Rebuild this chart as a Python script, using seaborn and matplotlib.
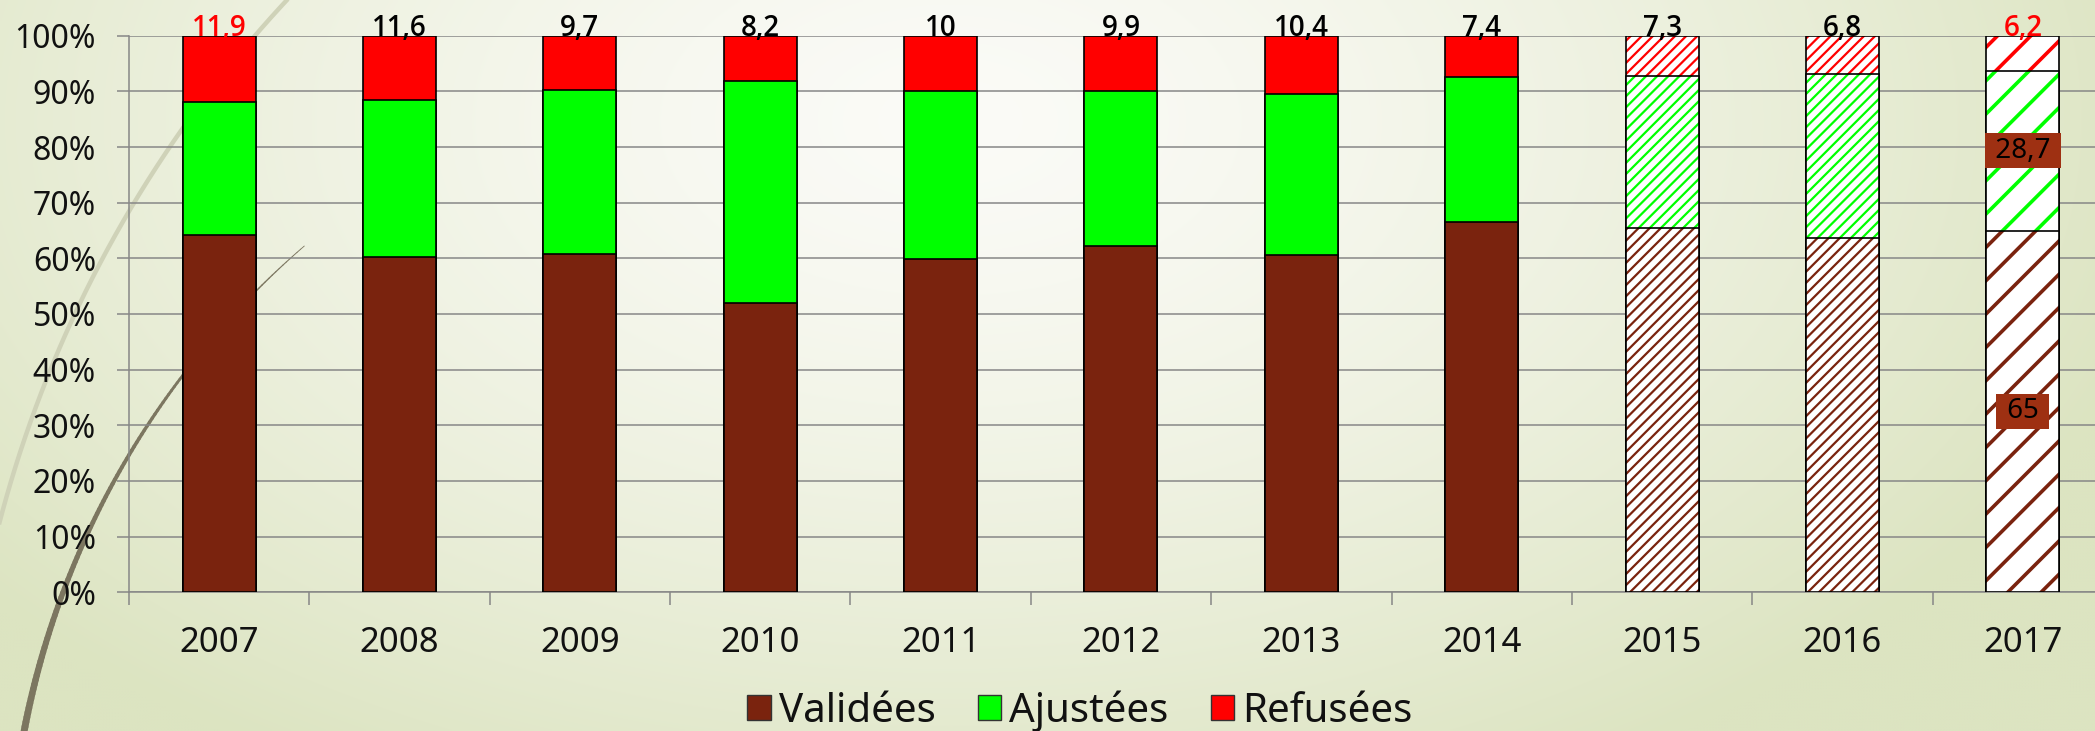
import numpy as np
import pandas as pd
import matplotlib
matplotlib.use("Agg")
import matplotlib.pyplot as plt
import seaborn as sns
from matplotlib.patches import Rectangle
from matplotlib.collections import LineCollection

# ---------------- data ----------------
years = ["2007", "2008", "2009", "2010", "2011", "2012", "2013", "2014", "2015", "2016", "2017"]
validees = [64.2, 60.2, 60.8, 52.0, 59.8, 62.2, 60.6, 66.6, 65.4, 63.6, 65.0]
ajustees = [23.9, 28.2, 29.5, 39.8, 30.2, 27.9, 29.0, 26.0, 27.3, 29.6, 28.7]
refusees = [11.9, 11.6, 9.7, 8.2, 10.0, 9.9, 10.4, 7.4, 7.3, 6.8, 6.2]
refusees_labels = ["11,9", "11,6", "9,7", "8,2", "10", "9,9", "10,4", "7,4", "7,3", "6,8", "6,2"]
series_names = ["Validées", "Ajustées", "Refusées"]
ytick_values = [0, 10, 20, 30, 40, 50, 60, 70, 80, 90, 100]
boxed_labels_2017 = ["65", "28,7"]

# ---------------- style ----------------
BROWN = "#7a230e"
GREEN = "#00ff00"
RED = "#ff0000"
BOXC = "#9e3012"
GRID = "#878787"
hatch_for_year = {"2015": "///", "2016": "///", "2017": "/"}
hatch_lw = {"2015": 1.6, "2016": 1.6, "2017": 2.6}

sns.set_theme(style="white")
plt.rcParams['font.family'] = ['Noto Sans', 'DejaVu Sans']

W, H = 2095, 731
fig = plt.figure(figsize=(W / 100, H / 100), dpi=100)

# ---------------- background ----------------
bg = fig.add_axes([0, 0, 1, 1], zorder=0)
bg.set_xlim(0, W)
bg.set_ylim(H, 0)
bg.axis("off")
yy, xx = np.mgrid[0:H:3, 0:W:3].astype(float)
t = np.sqrt(((xx - 950) / 1250.0) ** 2 + ((yy - 120) / 750.0) ** 2)
t = np.clip(t, 0, 1) ** 1.4
c0 = np.array([251, 251, 247]) / 255.0
c1 = np.array([220, 228, 193]) / 255.0
img = c0[None, None, :] * (1 - t[..., None]) + c1[None, None, :] * t[..., None]
bg.imshow(img, extent=[0, W, H, 0], aspect="auto", interpolation="bilinear")

# light decorative arc
th = np.radians(np.linspace(189, 226, 200))
cx, cy, r = 1177, 830, 1217
bg.plot(cx + r * np.cos(th), cy + r * np.sin(th), color="#cfd2b8", lw=3.2, solid_capstyle="butt")
# dark decorative arc (tapering)
th = np.radians(np.linspace(190.8, 229.2, 120))
cx, cy, r = 861, 891, 852
px = cx + r * np.cos(th)
py = cy + r * np.sin(th)
segs = np.stack([np.column_stack([px[:-1], py[:-1]]), np.column_stack([px[1:], py[1:]])], axis=1)
widths = np.linspace(5.0, 0.6, len(segs))
bg.add_collection(LineCollection(segs, linewidths=widths, colors="#7c7660", capstyle="round"))

# ---------------- main axes ----------------
left_px, right_px_full = 128.9, 2113.0
top_px, bottom_px = 35.7, 592.3
ax = fig.add_axes([left_px / W, 1 - bottom_px / H, (W - left_px) / W, (bottom_px - top_px) / H], zorder=1)
ax.patch.set_alpha(0)

df = pd.DataFrame({"year": years, "V": validees, "A": ajustees, "R": refusees})
df["cum_A"] = df["V"] + df["A"]
df["cum_R"] = df["cum_A"] + df["R"]


def wrap_hatch_lw(patch, lw):
    if hasattr(patch, "set_hatch_linewidth"):
        patch.set_hatch_linewidth(lw)
    orig = patch.draw

    def draw(renderer, _orig=orig, _lw=lw):
        with plt.rc_context({"hatch.linewidth": _lw}):
            _orig(renderer)
    patch.draw = draw


layers = [("cum_R", RED), ("cum_A", GREEN), ("V", BROWN)]
for col, color in layers:
    n0 = len(ax.patches)
    sns.barplot(data=df, x="year", y=col, color=color, saturation=1, width=0.405,
                edgecolor="black", linewidth=1.2, errorbar=None, ax=ax)
    new = list(ax.patches[n0:])
    for yr, p in zip(years, new):
        if yr in hatch_for_year:
            p.set_facecolor("white")
            p.set_edgecolor(color)
            p.set_hatch(hatch_for_year[yr])
            p.set_linewidth(0)
            wrap_hatch_lw(p, hatch_lw[yr])
            ax.add_patch(Rectangle((p.get_x(), p.get_y()), p.get_width(), p.get_height(),
                                   fill=False, edgecolor="black", linewidth=1.2))

ax.set_yticks(ytick_values)
ax.set_yticklabels([f"{v}%" for v in ytick_values])
ax.set_xticks(range(len(years)))
ax.set_xticklabels(years)
ax.set_xticks(np.arange(-0.5, len(years), 1.0), minor=True)
ax.set_ylim(0, 100)
ax.set_xlim(-0.5, -0.5 + (W - left_px) / ((right_px_full - left_px) / 11.0))
ax.set_xlabel("")
ax.set_ylabel("")
ax.tick_params(axis="y", which="major", left=True, length=8.6, width=1.1, color=GRID,
               pad=15, labelsize=23, labelcolor="#111111")
ax.tick_params(axis="x", which="major", bottom=True, length=0, pad=24, labelsize=25,
               labelcolor="#111111")
ax.tick_params(axis="x", which="minor", bottom=True, length=9, width=1.1, color=GRID)
ax.yaxis.grid(True, color=GRID, linewidth=1.1)
ax.set_axisbelow(True)
for s in ["top", "right"]:
    ax.spines[s].set_visible(False)
for s in ["left", "bottom"]:
    ax.spines[s].set_color(GRID)
    ax.spines[s].set_linewidth(1.1)
    ax.spines[s].set_zorder(0.5)

# labels on top (Refusées)
for i, lab in enumerate(refusees_labels):
    col = RED if i in (0, len(years) - 1) else "black"
    ax.text(i, 100, lab, ha="center", va="baseline", fontsize=20, fontweight="semibold",
            family=["Open Sans", "DejaVu Sans"], color=col, zorder=5)

# boxed labels in 2017
i17 = len(years) - 1
ax.text(i17, validees[i17] / 2, " " + boxed_labels_2017[0] + " ", ha="center", va="center",
        fontsize=20, color="black", zorder=6,
        bbox=dict(boxstyle="square,pad=0.12", fc=BOXC, ec="none"))
ax.text(i17, validees[i17] + ajustees[i17] / 2, " " + boxed_labels_2017[1] + " ", ha="center",
        va="center", fontsize=20, color="black", zorder=6,
        bbox=dict(boxstyle="square,pad=0.12", fc=BOXC, ec="none"))

# legend
handles = [Rectangle((0, 0), 1, 1, facecolor=c, edgecolor="#333333", linewidth=1.0)
           for c in (BROWN, GREEN, RED)]
fig.legend(handles, series_names, loc="center", bbox_to_anchor=(1080 / W, 1 - 711 / H),
           ncol=3, frameon=False, fontsize=29, handlelength=0.58, handleheight=0.58,
           handletextpad=0.2, columnspacing=1.05, labelcolor="#111111")

fig.savefig("out.png", dpi=100)
